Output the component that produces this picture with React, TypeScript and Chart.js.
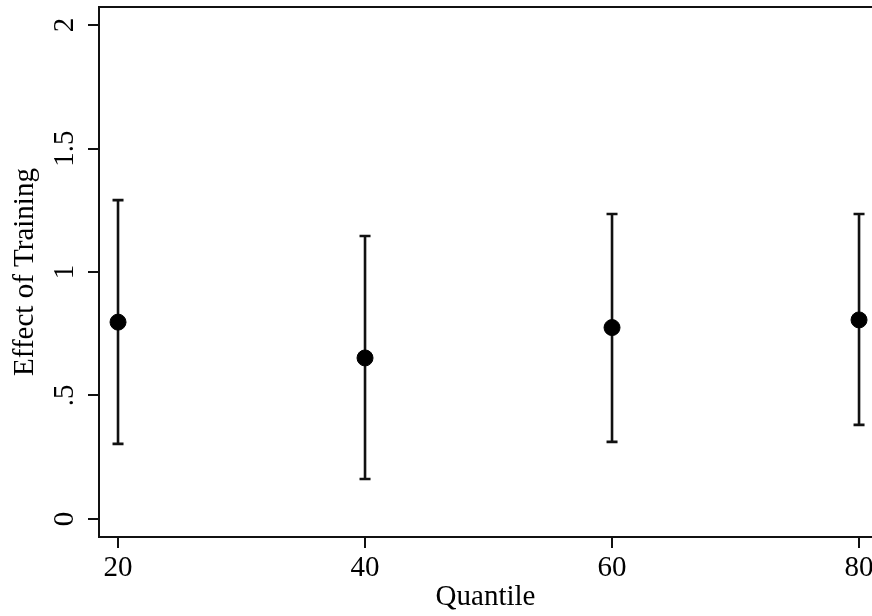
import React, { useEffect, useRef } from "react";
import { Chart, registerables } from "chart.js";

Chart.register(...registerables);

const quantiles = [20, 40, 60, 80];
const estimates = [0.797, 0.652, 0.775, 0.806];
const upperCI = [1.291, 1.146, 1.235, 1.235];
const lowerCI = [0.304, 0.162, 0.312, 0.381];

const xTickValues = [20, 40, 60, 80];
const yTickValues = [0, 0.5, 1, 1.5, 2];
const yTickLabels = ["0", ".5", "1", "1.5", "2"];

const FONT = "'Liberation Serif', 'Times New Roman', serif";

const errorBarPlugin = {
  id: "errorBars",
  beforeDatasetsDraw(chart: any) {
    const { ctx, scales } = chart;
    const xs = scales.x;
    const ys = scales.y;
    ctx.save();
    ctx.strokeStyle = "#111";
    ctx.lineWidth = 2.6;
    for (let i = 0; i < quantiles.length; i++) {
      const px = xs.getPixelForValue(quantiles[i]);
      const top = ys.getPixelForValue(upperCI[i]);
      const bot = ys.getPixelForValue(lowerCI[i]);
      ctx.beginPath();
      ctx.moveTo(px, top);
      ctx.lineTo(px, bot);
      ctx.moveTo(px - 5.5, top);
      ctx.lineTo(px + 5.5, top);
      ctx.moveTo(px - 5.5, bot);
      ctx.lineTo(px + 5.5, bot);
      ctx.stroke();
    }
    ctx.restore();
  },
};

const framePlugin = {
  id: "frameTop",
  afterDraw(chart: any) {
    const { ctx, chartArea } = chart;
    ctx.save();
    ctx.strokeStyle = "#111";
    ctx.lineWidth = 2;
    ctx.beginPath();
    ctx.moveTo(chartArea.left - 1, chartArea.top);
    ctx.lineTo(chartArea.right + 2, chartArea.top);
    ctx.stroke();
    ctx.restore();
  },
};

export default function App() {
  const ref = useRef<HTMLCanvasElement>(null);

  useEffect(() => {
    if (!ref.current) return;
    const chart = new Chart(ref.current, {
      type: "scatter",
      data: {
        datasets: [
          {
            data: quantiles.map((q, i) => ({ x: q, y: estimates[i] })),
            backgroundColor: "#000",
            borderColor: "#000",
            pointRadius: 8,
            pointHoverRadius: 8,
          },
        ],
      },
      options: {
        responsive: false,
        animation: false,
        events: [],
        layout: { autoPadding: false, padding: { top: 7, left: 0, right: 0, bottom: 0 } },
        plugins: {
          legend: { display: false },
          tooltip: { enabled: false },
        },
        scales: {
          x: {
            type: "linear",
            min: 18.46,
            max: 81.05,
            afterBuildTicks: (scale: any) => {
              scale.ticks = xTickValues.map((v) => ({ value: v }));
            },
            afterFit: (scale: any) => {
              scale.height = 79;
              scale.paddingLeft = 0;
              scale.paddingRight = 0;
            },
            ticks: {
              color: "#000",
              font: { family: FONT, size: 29 },
              padding: 3,
              maxRotation: 0,
              minRotation: 0,
              callback: (v: any) => String(v),
            },
            grid: {
              drawOnChartArea: false,
              drawTicks: true,
              tickLength: 11,
              color: "#111",
              lineWidth: 2,
            },
            border: { color: "#111", width: 2 },
            title: {
              display: true,
              text: "Quantile",
              color: "#000",
              font: { family: FONT, size: 29 },
              padding: { top: 0, bottom: 1 },
            },
          },
          y: {
            type: "linear",
            min: -0.073,
            max: 2.073,
            afterBuildTicks: (scale: any) => {
              scale.ticks = yTickValues.map((v) => ({ value: v }));
            },
            afterFit: (scale: any) => {
              scale.width = 99;
              scale.paddingTop = 0;
              scale.paddingBottom = 0;
            },
            ticks: {
              color: "#000",
              font: { family: FONT, size: 29 },
              padding: 4,
              minRotation: 90,
              maxRotation: 90,
              crossAlign: "center",
              callback: (v: any) => {
                const idx = yTickValues.indexOf(Number(v));
                return idx >= 0 ? yTickLabels[idx] : "";
              },
            },
            grid: {
              drawOnChartArea: false,
              drawTicks: true,
              tickLength: 11,
              color: "#111",
              lineWidth: 2,
            },
            border: { color: "#111", width: 2 },
            title: {
              display: true,
              text: "Effect of Training",
              color: "#000",
              font: { family: FONT, size: 29 },
              padding: { top: 8, bottom: 0 },
            },
          },
        },
      },
      plugins: [errorBarPlugin, framePlugin],
    } as any);
    return () => chart.destroy();
  }, []);

  return (
    <div style={{ position: "absolute", left: 0, top: 0, width: 872, height: 616, background: "#fff" }}>
      <canvas ref={ref} width={872} height={616} style={{ display: "block" }} />
    </div>
  );
}
